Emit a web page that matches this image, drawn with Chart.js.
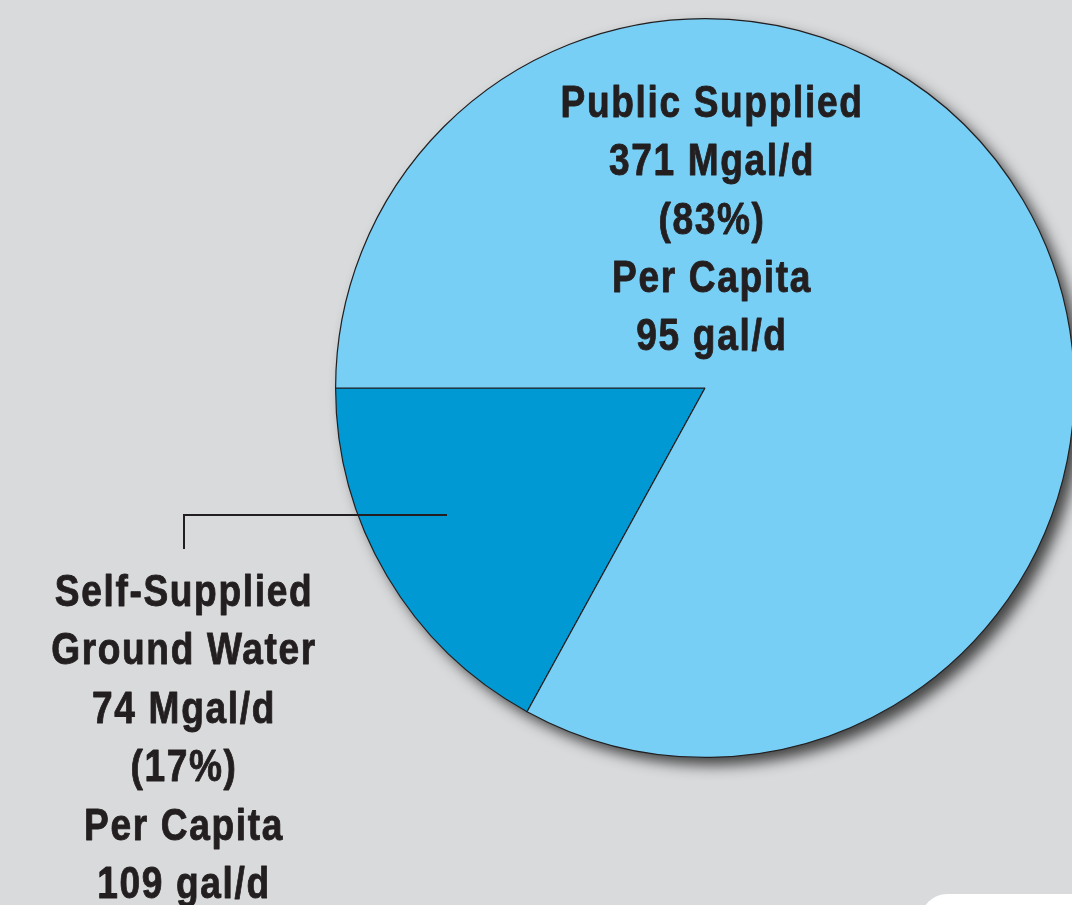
<!DOCTYPE html>
<html><head><meta charset="utf-8">
<script src="https://cdn.jsdelivr.net/npm/chart.js@4/dist/chart.umd.min.js"></script>
<style>
html,body{margin:0;padding:0;background:#d9dadc;overflow:hidden;}
#wrap{position:relative;width:1072px;height:905px;overflow:hidden;background:#d9dadc;}
canvas{position:absolute;left:0;top:0;}
#corner{position:absolute;left:921px;top:894px;width:200px;height:60px;background:#ffffff;border-radius:26px 0 0 0;}
</style></head><body>
<div id="wrap"><canvas id="c" width="1100" height="905"></canvas><div id="corner"></div></div>
<script>
// ---- data ----
const categoryLines = [['Self-Supplied', 'Ground Water'], ['Public Supplied']];
const percentShares = [17, 83];
const withdrawalsMgalPerDay = [74, 371];
const perCapitaGalPerDay = [109, 95];

function labelLines(i) {
  return categoryLines[i].concat([
    withdrawalsMgalPerDay[i] + ' Mgal/d',
    '(' + percentShares[i] + '%)',
    'Per Capita',
    perCapitaGalPerDay[i] + ' gal/d'
  ]);
}

const FONT_FAMILY = '"Liberation Sans", Arial, sans-serif';
const TEXT_COLOR = '#231f20';

const shadowPlugin = {
  id: 'pieShadow',
  beforeDatasetsDraw(chart) {
    const arc = chart.getDatasetMeta(0).data[0];
    const p = arc.getProps(['x', 'y', 'outerRadius'], true);
    const ctx = chart.ctx;
    ctx.save();
    ctx.shadowColor = 'rgba(30,30,30,0.8)';
    ctx.shadowBlur = 14;
    ctx.shadowOffsetX = 8;
    ctx.shadowOffsetY = 8;
    ctx.beginPath();
    ctx.arc(p.x, p.y, p.outerRadius, 0, Math.PI * 2);
    ctx.fillStyle = '#78cff5';
    ctx.fill();
    ctx.restore();
  }
};

const labelPlugin = {
  id: 'sliceLabels',
  afterDatasetsDraw(chart) {
    const ctx = chart.ctx;
    ctx.save();
    // leader line for the small slice
    ctx.strokeStyle = TEXT_COLOR;
    ctx.lineWidth = 2;
    ctx.lineCap = 'butt';
    ctx.beginPath();
    ctx.moveTo(447, 515);
    ctx.lineTo(184, 515);
    ctx.lineTo(184, 549);
    ctx.stroke();

    ctx.font = 'bold 45px ' + FONT_FAMILY;
    if ('letterSpacing' in ctx) ctx.letterSpacing = '2px';
    ctx.fillStyle = TEXT_COLOR;
    ctx.strokeStyle = TEXT_COLOR;
    ctx.lineWidth = 0.9;
    ctx.lineJoin = 'round';
    ctx.textAlign = 'center';
    ctx.textBaseline = 'alphabetic';
    const sx = 303 / ctx.measureText(labelLines(1)[0]).width;
    const blocks = [
      { i: 0, x: 183, y: 606 },
      { i: 1, x: 711, y: 116.7 }
    ];
    const lh = 58.4;
    blocks.forEach(b => {
      labelLines(b.i).forEach((t, k) => {
        ctx.save();
        ctx.translate(b.x + 1, b.y + k * lh);
        ctx.scale(sx, 1);
        ctx.fillText(t, 0, 0);
        ctx.strokeText(t, 0, 0);
        ctx.restore();
      });
    });
    ctx.restore();
  }
};

new Chart(document.getElementById('c'), {
  type: 'pie',
  data: {
    labels: categoryLines.map(l => l.join(' ')),
    datasets: [{
      data: percentShares,
      backgroundColor: ['#0099d3', '#78cff5'],
      borderColor: '#231f20',
      borderWidth: 1.2,
      hoverOffset: 0,
      offset: 0
    }]
  },
  options: {
    responsive: false,
    maintainAspectRatio: false,
    animation: false,
    events: [],
    rotation: 208.8,
    layout: { padding: { left: 335, top: 18, right: 25, bottom: 147 } },
    plugins: { legend: { display: false }, tooltip: { enabled: false } }
  },
  plugins: [shadowPlugin, labelPlugin]
});
</script>
</body></html>
